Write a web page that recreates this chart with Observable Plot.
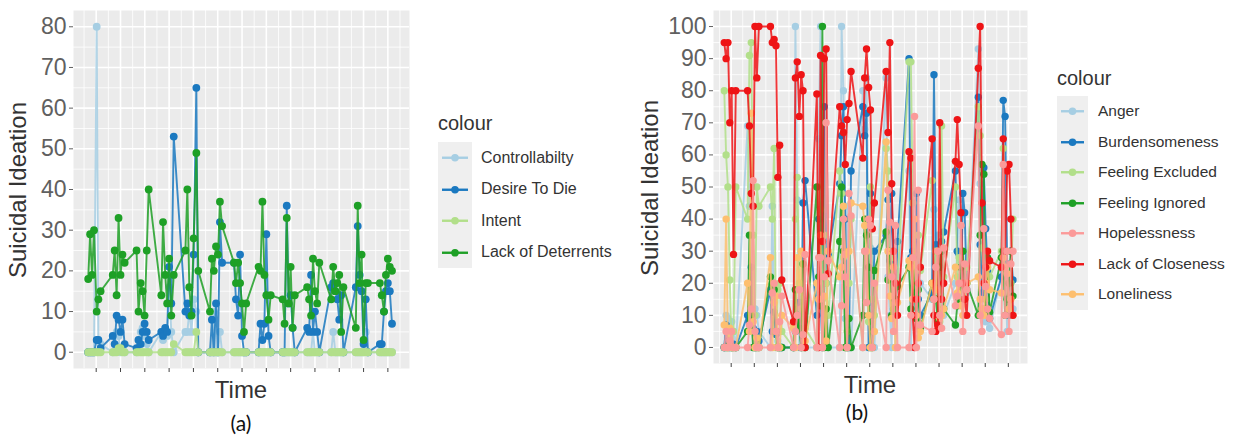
<!DOCTYPE html>
<html><head><meta charset="utf-8">
<script src="https://cdn.jsdelivr.net/npm/d3@7"></script>
<script src="https://cdn.jsdelivr.net/npm/@observablehq/plot@0.6"></script>
<style>
html,body{margin:0;padding:0;background:#fff;}
body{width:1233px;height:436px;overflow:hidden;font-family:"Liberation Sans",Arial,sans-serif;}
#wrap{position:relative;width:1233px;height:436px;}
.ctr{position:absolute;transform:translate(-50%,-50%);white-space:nowrap;color:#333;}
.rot{position:absolute;transform:translate(-50%,-50%) rotate(-90deg);white-space:nowrap;color:#333;}
.lgtitle{position:absolute;color:#333;white-space:nowrap;}
</style></head><body><div id="wrap"></div>
<script>
// ---------------- Panel (a) ----------------
const seriesA = ["Controllabilty","Desire To Die","Intent","Lack of Deterrents"];
const colorsA = ["#a6cee3","#1b79c0","#b2df8a","#1ea026"];
const timeA = [
 0.67,0.75,0.83,0.91,1.02,1.09,1.18,
 1.68,1.76,1.84,1.92,2.00,2.08,2.17,
 2.66,2.74,2.83,2.91,2.99,3.08,3.16,
 3.68,3.75,3.84,3.92,4.00,4.09,4.19,
 4.67,4.75,4.83,4.92,5.01,5.12,5.20,
 5.68,5.76,5.84,5.93,6.01,6.09,6.18,
 6.67,6.75,6.84,6.92,7.00,7.08,7.17,
 7.68,7.76,7.84,7.92,8.00,8.09,8.18,
 8.67,8.75,8.84,8.92,9.00,9.08,9.17,
 9.68,9.76,9.84,9.92,10.00,10.09,10.18,
 10.67,10.75,10.84,10.92,11.00,11.08,11.17,
 11.68,11.76,11.84,11.92,12.00,12.09,12.18,
 12.67,12.75,12.84,12.92,13.00,13.08,13.17];
const controllability = [
 0,0,0,0,80,3,2, 0,2,5,4,0,1,0, 0,3,5,6,4,2,0, 5,3,5,4,16,5,0, 5,5,10,5,13,10,0,
 0,0,10,0,0,5,0, 0,0,0,0,0,0,0, 0,0,0,0,0,0,0, 0,0,0,0,0,0,0, 0,0,0,5,0,0,0,
 0,5,0,0,0,0,0, 0,0,0,0,0,5,0, 0,0,0,0,0,0,0];
const desireToDie = [
 0,0,0,0,3,3,1, 4,2,9,8,5,8,2, 1,3,2,5,7,5,3, 5,4,6,5,21,12,53, 10,12,9,10,24,65,0,
 0,8,0,12,0,32,22, 22,13,9,24,4,0,0, 0,7,3,7,29,4,0, 0,0,36,12,14,6,0, 6,5,19,5,10,5,0,
 16,17,15,13,8,14,0, 16,31,19,15,2,13,0, 2,2,10,15,17,15,7];
const intent = [
 0,0,0,0,0,0,0, 0,0,0,1,1,0,0, 0,0,0,0,0,0,0, 0,0,0,0,0,0,2, 0,0,0,0,0,5,0,
 0,0,0,0,0,0,0, 0,0,0,0,0,0,0, 0,0,0,0,0,0,0, 0,0,0,0,0,0,0, 0,0,0,0,0,0,0,
 0,0,0,0,0,0,0, 0,0,0,0,0,0,0, 0,0,0,0,0,0,0];
const lackOfDeterrents = [
 18,29,19,30,10,13,15, 19,25,14,33,19,24,22, 25,10,17,15,9,25,40, 14,32,19,12,23,9,19, 25,40,16,9,28,49,20,
 10,23,20,26,24,37,31, 22,17,22,17,12,5,12, 21,20,37,19,14,8,14, 13,7,33,12,21,6,14, 16,13,9,23,15,12,22,
 13,21,15,17,19,5,16, 6,36,17,24,3,17,17, 17,14,10,19,23,21,20];
const valuesA = [controllability, desireToDie, intent, lackOfDeterrents];
const drawOrderA = ["Controllabilty","Desire To Die","Lack of Deterrents","Intent"];
const yTicksA = [0,10,20,30,40,50,60,70,80];

// ---------------- Panel (b) ----------------
const seriesB = ["Anger","Burdensomeness","Feeling Excluded","Feeling Ignored","Hopelessness","Lack of Closeness","Loneliness"];
const colorsB = ["#a6cee3","#1b79c0","#b2df8a","#1ea026","#fb9a99","#ee1416","#fdbf6f"];
const timeB = [
 0.70,0.78,0.86,0.94,1.02,1.10,1.20,
 1.71,1.79,1.87,1.95,2.03,2.11,2.20,
 2.70,2.78,2.86,2.94,3.02,3.10,3.19,
 3.70,3.78,3.86,3.95,4.03,4.11,4.20,
 4.71,4.79,4.87,4.95,5.03,5.11,5.20,
 5.70,5.78,5.86,5.94,6.02,6.10,6.19,
 6.70,6.78,6.86,6.95,7.03,7.11,7.20,
 7.71,7.79,7.87,7.95,8.03,8.11,8.20,
 8.70,8.78,8.86,8.94,9.02,9.10,9.19,
 9.70,9.78,9.86,9.95,10.03,10.11,10.20,
 10.71,10.79,10.87,10.95,11.03,11.11,11.20,
 11.70,11.78,11.86,11.94,12.02,12.10,12.19,
 12.70,12.78,12.86,12.95,13.03,13.11,13.20];
const anger = [
 0,10,9,0,8,5,0, 69,44,50,0,12,10,5, 0,44,11,5,2,0,0, 0,100,46,0,15,0,0, 0,65,100,0,16,29,0,
 0,100,80,9,44,0,0, 80,68,84,14,31,5,0, 84,22,10,0,30,0,22, 55,0,27,10,32,25,20, 15,43,30,35,20,14,10,
 20,30,46,30,22,18,17, 93,51,16,21,8,10,6, 22,17,26,5,20,21,12];
const burdensomeness = [
 0,7,2,0,0,1,0, 10,8,25,6,0,5,2, 18,5,11,4,0,0,0, 0,5,12,14,0,45,52, 10,40,15,0,75,20,29,
 51,66,75,40,0,0,55, 75,66,73,0,48,10,30, 35,46,27,48,22,10,33, 90,28,30,22,48,15,10, 17,85,32,15,20,33,36,
 55,30,29,14,48,42,18, 78,32,17,56,37,24,9, 22,77,72,26,10,30,21];
const feelingExcluded = [
 80,60,50,21,0,5,50, 40,91,95,35,10,50,44, 50,40,62,0,18,20,5, 0,40,53,20,12,0,6, 0,50,43,15,35,20,10,
 55,48,28,0,5,20,40, 0,30,25,8,50,15,10, 62,55,30,28,10,15,20, 89,89,45,15,20,35,24, 52,20,30,10,8,69,22,
 50,22,28,15,20,20,25, 75,66,31,20,15,25,22, 30,62,20,15,12,20,40];
const feelingIgnored = [
 0,0,0,1,0,0,0, 5,35,10,0,0,0,0, 22,20,18,5,0,0,0, 0,18,8,6,0,26,0, 50,22,13,100,0,12,0,
 33,50,30,0,0,9,0, 10,40,35,25,0,0,24, 36,21,30,10,12,15,19, 25,12,28,17,9,18,6, 20,15,15,8,25,30,12,
 7,13,15,25,30,19,20, 10,35,57,54,12,28,11, 28,30,10,15,20,30,16];
const hopelessness = [
 0,5,0,2,5,0,0, 0,7,12,52,5,0,0, 0,17,20,5,0,8,16, 0,5,10,18,0,4,29, 0,28,28,0,22,70,27,
 0,13,40,22,0,48,41, 0,30,14,40,38,0,20, 0,49,39,22,5,38,0, 0,10,28,72,0,49,7, 5,15,25,30,10,6,31,
 13,16,20,38,5,26,18, 69,10,5,37,19,12,9, 4,57,10,30,5,26,30];
const lackOfCloseness = [
 95,90,95,70,80,29,80, 80,69,48,44,100,84,100, 100,95,96,94,53,63,21, 8,84,89,72,85,80,0, 79,0,91,33,90,93,23,
 75,69,67,57,71,76,86, 59,84,93,81,74,37,45, 86,67,95,51,30,20,10, 61,59,10,0,15,20,25, 65,10,5,7,70,15,20,
 58,71,57,42,20,15,10, 87,100,45,20,25,30,27, 25,65,30,55,57,40,10];
const loneliness = [
 7,40,0,6,0,0,0, 20,5,73,8,0,3,0, 28,0,14,16,0,0,10, 6,0,28,18,30,0,2, 20,15,35,0,16,2,30,
 22,25,44,29,0,30,45, 44,38,30,10,0,0,5, 64,30,16,9,25,0,14, 27,25,15,40,10,3,5, 20,15,18,30,9,10,12,
 25,17,20,13,10,15,20, 22,15,12,10,20,25,18, 17,28,25,23,12,15,10];
const valuesB = [anger, burdensomeness, feelingExcluded, feelingIgnored, hopelessness, lackOfCloseness, loneliness];
const drawOrderB = ["Anger","Burdensomeness","Feeling Excluded","Feeling Ignored","Loneliness","Lack of Closeness","Hopelessness"];
const yTicksB = [0,10,20,30,40,50,60,70,80,90,100];

const xTicks = [1,2,3,4,5,6,7,8,9,10,11,12,13];
const xMinor = [0.5,1.5,2.5,3.5,4.5,5.5,6.5,7.5,8.5,9.5,10.5,11.5,12.5,13.5];

function makePanel(cfg){
  const rows = [];
  cfg.series.forEach((s,k)=>cfg.values[k].forEach((v,i)=>rows.push({t:cfg.times[i], v, s})));
  const yMinor = cfg.yTicks.slice(1).map((d,i)=>(d+cfg.yTicks[i])/2);
  const marks = [
    Plot.frame({fill:"#ebebeb", stroke:null}),
    Plot.gridX(xMinor,{stroke:"#fff",strokeOpacity:1,strokeWidth:0.8}),
    Plot.gridY(yMinor,{stroke:"#fff",strokeOpacity:1,strokeWidth:0.8}),
    Plot.gridX(xTicks,{stroke:"#fff",strokeOpacity:1,strokeWidth:1.6}),
    Plot.gridY(cfg.yTicks,{stroke:"#fff",strokeOpacity:1,strokeWidth:1.6})
  ];
  for (const name of cfg.order){
    const d = rows.filter(r=>r.s===name);
    marks.push(Plot.line(d,{x:"t",y:"v",stroke:"s",strokeWidth:cfg.lw,strokeOpacity:0.85}));
    marks.push(Plot.dot(d,{x:"t",y:"v",fill:"s",r:cfg.r}));
  }
  marks.push(Plot.axisY(cfg.yTicks,{tickSize:4,tickPadding:3,color:"#606060",label:null}));
  marks.push(Plot.axisX(xTicks,{tickSize:4,tickFormat:()=>"",color:"#444",label:null}));
  return Plot.plot({
    width:cfg.width, height:cfg.height,
    marginLeft:cfg.ml, marginRight:cfg.mr, marginTop:cfg.mt, marginBottom:cfg.mb,
    x:{domain:cfg.xDomain},
    y:{domain:cfg.yDomain},
    color:{domain:cfg.series, range:cfg.colors},
    style:{fontSize:"23px",fontFamily:"'Liberation Sans',Arial,sans-serif",background:"transparent",overflow:"visible"},
    marks
  });
}

const wrap = document.getElementById("wrap");
function place(el, left, top){ el.style.position="absolute"; el.style.left=left+"px"; el.style.top=top+"px"; wrap.appendChild(el); return el; }
function label(text, cls, x, y, size, extra){
  const d=document.createElement("div"); d.className=cls; d.textContent=text;
  d.style.left=x+"px"; d.style.top=y+"px"; d.style.fontSize=size+"px";
  if(extra) Object.assign(d.style, extra);
  wrap.appendChild(d); return d;
}
function legend(names, colors, x, yTitle, yBox, rowH, keyW, fontTitle, fontLab, labX){
  label("colour","lgtitle",x,yTitle,fontTitle);
  const bg=document.createElement("div");
  Object.assign(bg.style,{position:"absolute",left:x+"px",top:yBox+"px",width:keyW+"px",height:(rowH*names.length)+"px",background:"#efefef"});
  wrap.appendChild(bg);
  names.forEach((n,i)=>{
    const cy = yBox + rowH*i + rowH/2;
    const svg=document.createElementNS("http://www.w3.org/2000/svg","svg");
    svg.setAttribute("width",keyW); svg.setAttribute("height",rowH);
    svg.style.position="absolute"; svg.style.left=x+"px"; svg.style.top=(yBox+rowH*i)+"px";
    svg.innerHTML=`<line x1="4" x2="${keyW-4}" y1="${rowH/2}" y2="${rowH/2}" stroke="${colors[i]}" stroke-width="2.4"/><circle cx="${keyW/2}" cy="${rowH/2}" r="3.8" fill="${colors[i]}"/>`;
    wrap.appendChild(svg);
    const t=document.createElement("div"); t.textContent=n;
    Object.assign(t.style,{position:"absolute",left:labX+"px",top:cy+"px",transform:"translateY(-50%)",fontSize:fontLab+"px",color:"#333",whiteSpace:"nowrap"});
    wrap.appendChild(t);
  });
}

const plotA = makePanel({series:seriesA,colors:colorsA,values:valuesA,times:timeA,order:drawOrderA,yTicks:yTicksA,
  width:420,height:400,ml:73,mr:11,mt:10,mb:32,xDomain:[0.066,13.89],yDomain:[-4,84],lw:1.9,r:3.9});
place(plotA,0,0);
const plotB = makePanel({series:seriesB,colors:colorsB,values:valuesB,times:timeB,order:drawOrderB,yTicks:yTicksB,
  width:420,height:400,ml:88,mr:18,mt:10,mb:37,xDomain:[0.234,13.83],yDomain:[-5,105],lw:1.9,r:3.7});
place(plotB,625,0);

label("Suicidal Ideation","rot",18,190,24);
label("Time","ctr",241,390,24);
label("(a)","ctr",241,422,21,{fontFamily:"Lato,'Open Sans',sans-serif",color:"#111"});
label("Suicidal Ideation","rot",650,188,24);
label("Time","ctr",870,385,24);
label("(b)","ctr",857,411,21,{fontFamily:"Lato,'Open Sans',sans-serif",color:"#111"});

legend(seriesA, colorsA, 438, 112, 142, 31.5, 34, 20, 16, 481);
legend(seriesB, colorsB, 1057, 67, 96, 30.5, 31, 20, 15.5, 1098);
</script></body></html>
